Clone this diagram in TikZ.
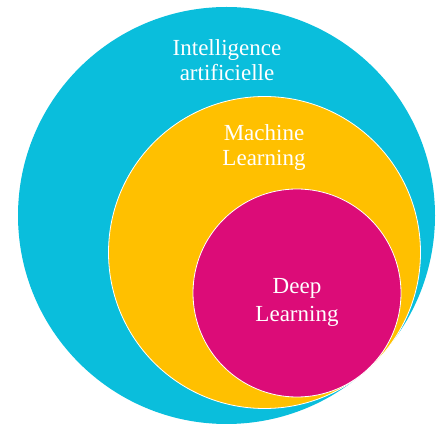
\documentclass[tikz,border=0pt]{standalone}
\usepackage{fontspec}
\setmainfont{Liberation Serif}
\definecolor{iablue}{RGB}{10,190,220}
\definecolor{mlyellow}{RGB}{255,192,0}
\definecolor{dlpink}{RGB}{220,12,120}
\begin{document}
\begin{tikzpicture}[x=1pt,y=1pt,
  txt/.style={text=white,align=center,font=\fontsize{23}{25}\selectfont}]
\useasboundingbox (0,0) rectangle (444,423);
\fill[iablue] (226.5,207.5) circle (208.5pt);
\filldraw[draw=white,line width=0.8pt,fill=mlyellow] (264.5,170.5) circle (156pt);
\filldraw[draw=white,line width=0.8pt,fill=dlpink] (297,130) circle (104pt);
\node[txt] (ia) at (227,363) {Intelligence\\artificielle};
\node[txt] (ml) at (264,275.5) {Machine\\Learning};
\node[txt,font=\fontsize{23}{27.5}\selectfont] (dl) at (297,120.5) {Deep\\Learning};
\end{tikzpicture}
\end{document}
